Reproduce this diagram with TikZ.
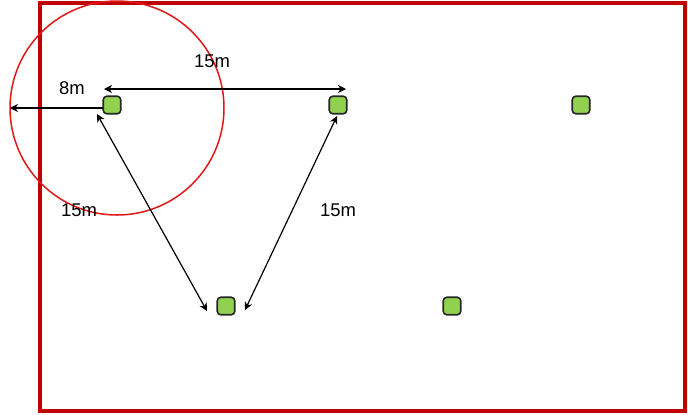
\documentclass[tikz,border=0pt]{standalone}
\usepackage{fontspec}
\setmainfont{Liberation Sans}
\usetikzlibrary{arrows.meta}
\definecolor{frame}{RGB}{192,0,0}
\definecolor{ring}{RGB}{226,24,24}
\definecolor{lamp}{RGB}{146,208,80}
\tikzset{
  lampbox/.style={draw=black!85,fill=lamp,line width=1.6bp,rounded corners=3.5bp,minimum width=17.5bp,minimum height=17.5bp,inner sep=0pt},
  dim/.style={line width=1.2bp,{Stealth[length=8bp,width=8bp,inset=2.5bp]}-{Stealth[length=8bp,width=8bp,inset=2.5bp]}},
  dimone/.style={line width=1.2bp,-{Stealth[length=8bp,width=8bp,inset=2.5bp]}},
  lbl/.style={inner sep=0pt,font=\fontsize{18.5}{20}\selectfont}
}
\begin{document}
\begin{tikzpicture}[x=1bp,y=-1bp]
\useasboundingbox (0,0) rectangle (688,414);
\draw[frame,line width=4bp] (40,3) rectangle (685,411);
\draw[ring,line width=1.5bp] (117,108) circle[radius=107];
\coordinate (r0) at (106,108);
\coordinate (r1) at (10,108);
\draw[dimone] (r0) -- (r1);
\node[lampbox] (s1) at (112,105) {};
\node[lampbox] (s2) at (338,105) {};
\node[lampbox] (s3) at (581,105) {};
\node[lampbox] (s4) at (226,306) {};
\node[lampbox] (s5) at (452,306) {};
\coordinate (h1) at (104,89);
\coordinate (h2) at (346,89);
\coordinate (a1) at (97,114);
\coordinate (a2) at (207,311);
\coordinate (b1) at (337,116);
\coordinate (b2) at (245,310);
\draw[dim] (h1) -- (h2);
\draw[dim] (a1) -- (a2);
\draw[dim] (b1) -- (b2);
\node[lbl] (t1) at (212,61) {15m};
\node[lbl] (t2) at (72,88) {8m};
\node[lbl] (t3) at (79,210) {15m};
\node[lbl] (t4) at (338,210) {15m};
\end{tikzpicture}
\end{document}
